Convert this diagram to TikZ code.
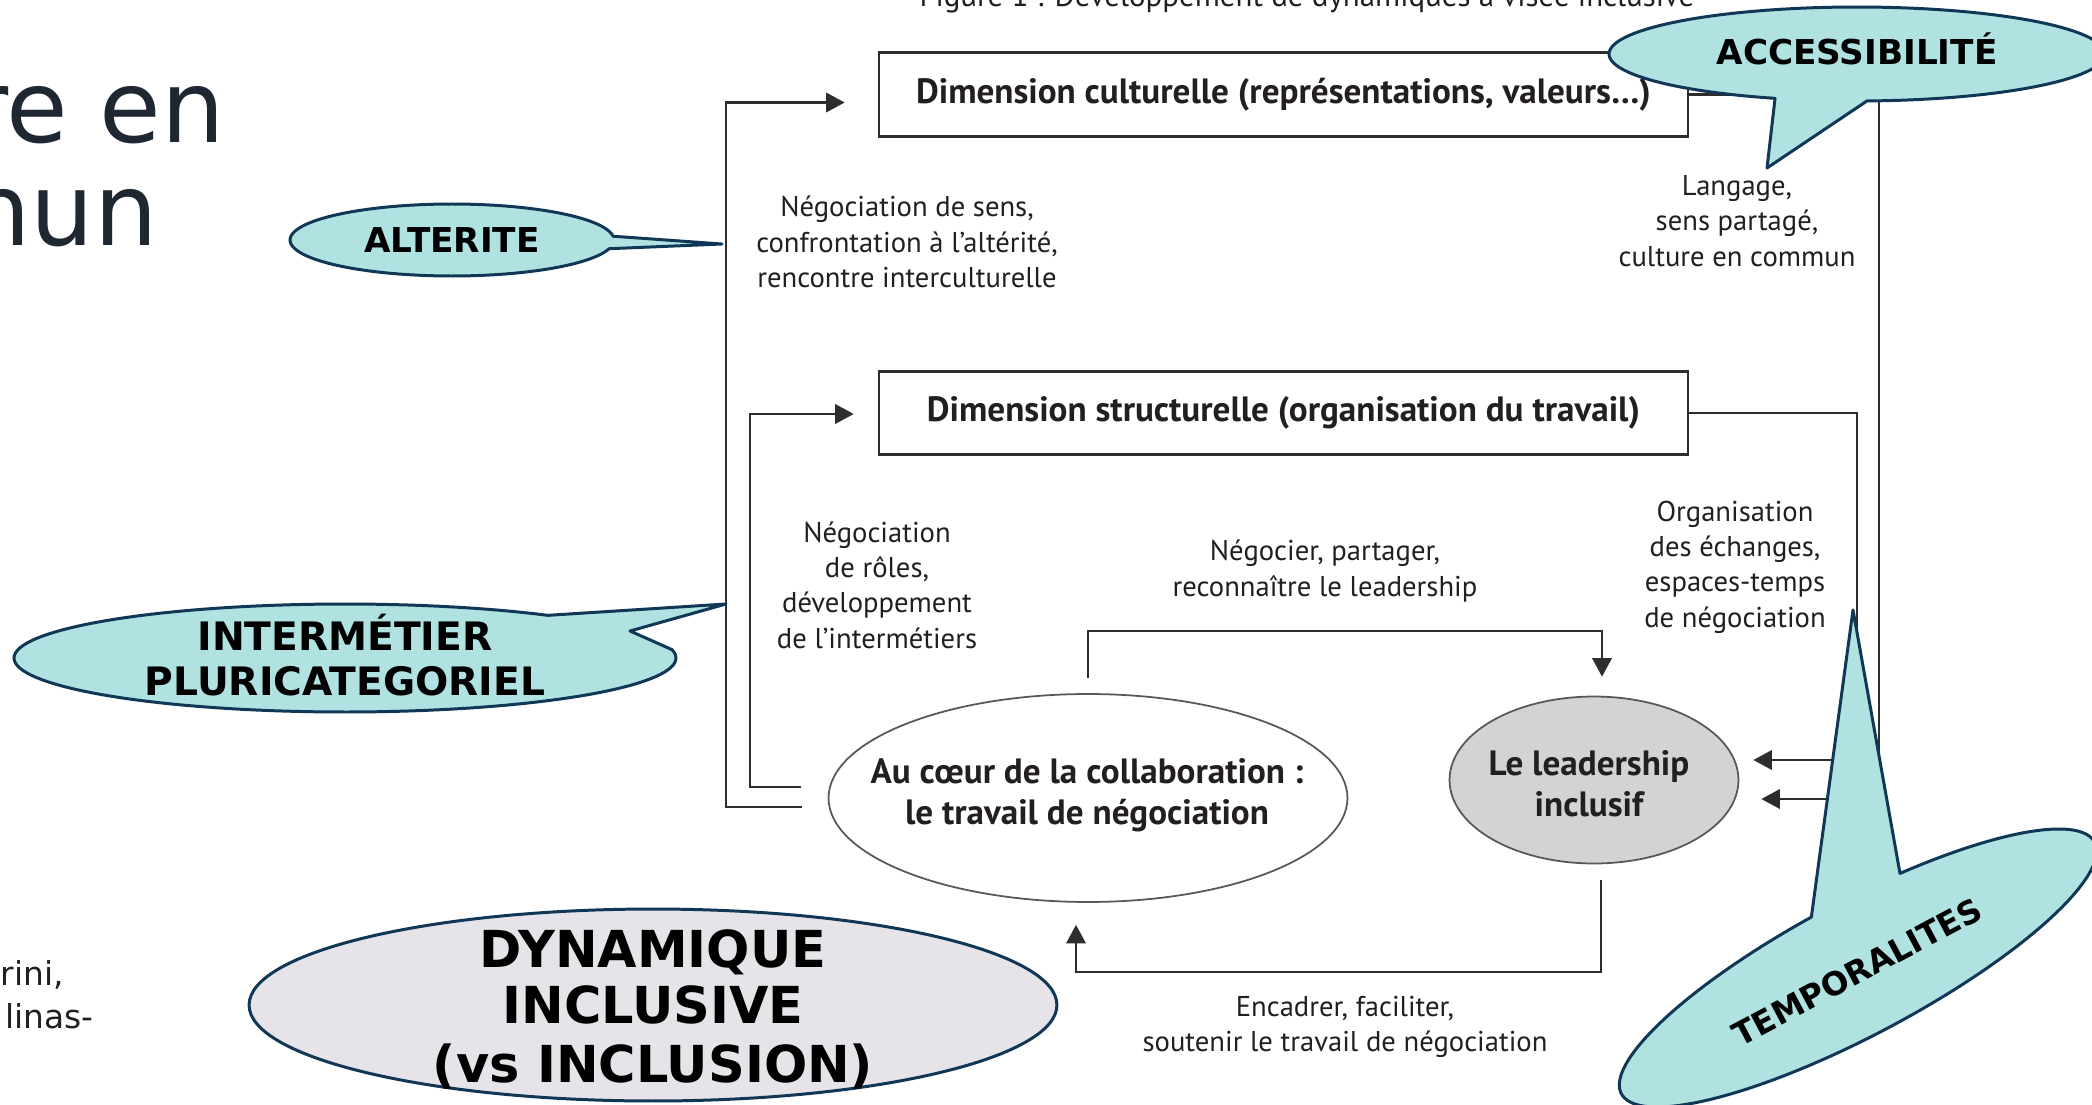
\documentclass[tikz,border=0pt]{standalone}
\usepackage{fontspec}
\setmainfont{PT Sans}
\newfontfamily\bullefont{DejaVu Sans}
\usepackage{tikz}
\usetikzlibrary{arrows.meta,calc,shapes.geometric}

\definecolor{fondbulle}{RGB}{176,226,226}
\definecolor{bordbulle}{RGB}{16,55,85}
\definecolor{fondgris}{RGB}{230,228,232}
\definecolor{fondlead}{RGB}{210,211,211}
\definecolor{gtrait}{RGB}{45,45,45}
\definecolor{gtexte}{RGB}{35,31,32}
\definecolor{titre}{RGB}{31,39,51}

\begin{document}
\begin{tikzpicture}[x=0.02cm,y=-0.02cm,
    trait/.style={draw=gtrait,line width=1.3pt},
    fleche/.style={trait,-{Triangle[length=10.5pt,width=11pt]}},
    boite/.style={draw=gtrait,line width=1.6pt,fill=white,inner sep=0pt,
        minimum width=16.18cm,minimum height=1.67cm,text=gtexte,
        font=\fontsize{20}{24}\selectfont\bfseries},
    rond/.style={ellipse,draw=gtrait!80,line width=1pt,inner sep=0pt},
    texterond/.style={align=center,text=gtexte,font=\fontsize{20}{23.2}\selectfont\bfseries},
    legende/.style={align=center,text=gtexte,font=\fontsize{16.3}{20.1}\selectfont},
    bulle/.style={fill=fondbulle,draw=bordbulle,line width=1.7pt,line join=round},
    mot/.style={anchor=base,text=black,font=\bullefont\bfseries\fontsize{19.5}{22}\selectfont}
  ]
  \useasboundingbox (0,0) rectangle (2092,1105);
  \fill[white] (0,0) rectangle (2092,1105);

  % legende de la figure
  \node[anchor=base,text=gtexte,font=\fontsize{17.6}{20}\selectfont] (figure) at (1307,7)
    {Figure 1 : Développement de dynamiques à visée inclusive};

  % les dimensions et les deux poles
  \node[boite] (culturelle) at (1283.5,94.5) {Dimension culturelle (représentations, valeurs…)};
  \node[boite] (structurelle) at (1283.5,413) {Dimension structurelle (organisation du travail)};
  \node[rond,minimum width=10.38cm,minimum height=4.16cm] (collab) at (1088,798) {};
  \node[rond,fill=fondlead,minimum width=5.78cm,minimum height=3.34cm] (leader) at (1594,780) {};
  \node[texterond] (collabtxt) at (1087,795) {Au cœur de la collaboration :\\le travail de négociation};
  \node[texterond] (leadertxt) at (1589,784) {Le leadership\\inclusif};

  % boucles
  \draw[fleche] ($(collab.west)+(-26,9)$) -| ($(culturelle.west)+(-152,8)$) -- ($(culturelle.west)+(-33,8)$);
  \draw[fleche] ($(collab.west)+(-27,-11)$) -| ($(structurelle.west)+(-128,1)$) -- ($(structurelle.west)+(-24,1)$);
  \draw[fleche] (culturelle.east) -- ++(190,0) |- ($(leader.east)+(22,19)$);
  \draw[fleche] (structurelle.east) -- ++(168,0) |- ($(leader.east)+(14,-20)$);
  \draw[fleche] ($(collab.north)+(0,-15)$) |- ($(leader.north)+(8,-65)$) -- ($(leader.north)+(8,-19)$);
  \draw[fleche] ($(leader.south)+(7,16)$) |- ($(collab.south)+(-12,69)$) -- ($(collab.south)+(-12,22)$);

  \node[legende] (sens) at (907,242) {Négociation de sens,\\confrontation à l’altérité,\\rencontre interculturelle};
  \node[legende] (langage) at (1737,221) {Langage,\\sens partagé,\\culture en commun};
  \node[legende] (roles) at (877,585) {Négociation\\de rôles,\\développement\\de l’intermétiers};
  \node[legende] (negocier) at (1325,571) {Négocier, partager,\\reconnaître le leadership};
  \node[legende] (orga) at (1735,567) {Organisation\\des échanges,\\espaces-temps\\de négociation};
  \node[legende] (encadrer) at (1345,1027) {Encadrer, faciliter,\\soutenir le travail de négociation};

  % bulles
  \filldraw[bulle] plot[domain=14:354,samples=90,variable=\t] ({452+162*cos(\t)},{240+36*sin(\t)}) -- (722,244) -- cycle;
  \filldraw[bulle] plot[domain=109.3:447.7,samples=120,variable=\t] ({1857+248*cos(\t)},{54+47*sin(\t)}) -- (1767,168) -- cycle;
  \filldraw[bulle] plot[domain=-8.9:307.8,samples=120,variable=\t] ({345+331*cos(\t)},{658+54*sin(\t)}) -- (726,604) -- (630,631) -- cycle;
  \filldraw[bulle] plot[domain=287.7:626.3,samples=120,variable=\t]
    ({1858+268*cos(\t)*cos(28)+67*sin(\t)*sin(28)},{968-268*cos(\t)*sin(28)+67*sin(\t)*cos(28)}) -- (1853,610) -- cycle;
  \node[ellipse,bulle,fill=fondgris,inner sep=0pt,minimum width=16.16cm,minimum height=3.84cm] (dynamique) at (653,1005) {};

  \node[mot] (alterite) at (452,252) {ALTERITE};
  \node[mot] (accessibilite) at (1857,65) {ACCESSIBILITÉ};
  \node[mot,font=\bullefont\bfseries\fontsize{22.3}{26}\selectfont] (intermetier) at (345,650) {INTERMÉTIER};
  \node[mot,font=\bullefont\bfseries\fontsize{22.3}{26}\selectfont] (pluri) at (345,695) {PLURICATEGORIEL};
  \node[mot,anchor=center,rotate=28,font=\bullefont\bfseries\fontsize{18.4}{22}\selectfont] (temporalites) at (1857,972) {TEMPORALITES};
  \node[mot,font=\bullefont\bfseries\fontsize{29}{32}\selectfont] (dyn1) at (653,967) {DYNAMIQUE};
  \node[mot,font=\bullefont\bfseries\fontsize{29}{32}\selectfont] (dyn2) at (653,1023) {INCLUSIVE};
  \node[mot,font=\bullefont\bfseries\fontsize{29}{32}\selectfont] (dyn3) at (653,1082) {(vs INCLUSION)};

  % texte de la diapositive
  \node[anchor=base east,inner sep=0pt,text=titre,font=\bullefont\fontsize{57}{60}\selectfont] (titre1) at (225,142) {re en};
  \node[anchor=base east,inner sep=0pt,text=titre,font=\bullefont\fontsize{57}{60}\selectfont] (titre2) at (158,245) {nun};
  \node[anchor=base east,inner sep=0pt,text=gtexte,font=\bullefont\fontsize{18.7}{24}\selectfont] (ref1) at (64,985) {rini,};
  \node[anchor=base east,inner sep=0pt,text=gtexte,font=\bullefont\fontsize{18.7}{24}\selectfont] (ref2) at (94,1028) {linas-};
\end{tikzpicture}
\end{document}
